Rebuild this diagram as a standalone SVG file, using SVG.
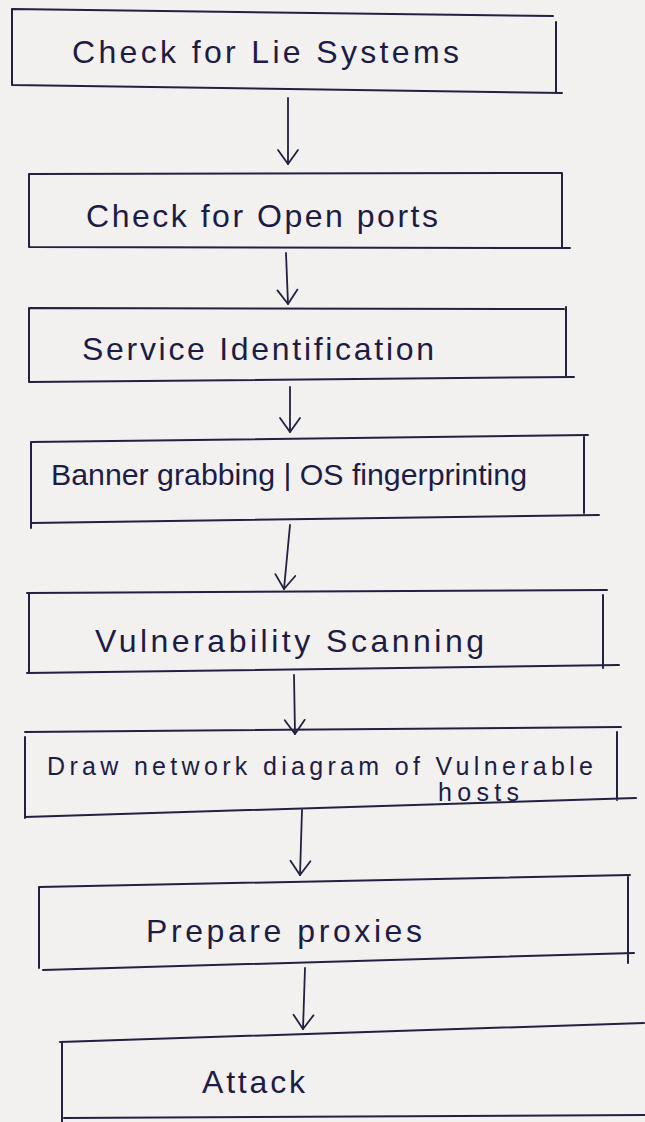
<svg xmlns="http://www.w3.org/2000/svg" width="645" height="1122" viewBox="0 0 645 1122">
  <style>
    .paper { fill: #f3f1f0; }
    .box { fill: none; stroke: #22213f; stroke-width: 2; stroke-linecap: round; stroke-linejoin: round; }
    .wire { fill: none; stroke: #22213f; stroke-width: 1.8; stroke-linecap: round; }
    .label { font-family: "Liberation Sans", "DejaVu Sans", sans-serif; font-size: 32px; fill: #1d1c45; }
    .mid { font-size: 29px; }
    .small { font-size: 25px; }
  </style>
  <defs>
    <marker id="vhead" markerUnits="userSpaceOnUse" markerWidth="26" markerHeight="26" viewBox="-16 -13 18 26" refX="0" refY="0" orient="auto">
      <path d="M-14,-10 L0,0 L-14,10" fill="none" stroke="#22213f" stroke-width="1.8" stroke-linecap="round" stroke-linejoin="round"/>
    </marker>
  </defs>

  <rect class="paper" x="0" y="0" width="645" height="1122"/>

  <!-- step connectors -->
  <g id="connectors">
    <path class="wire" d="M288,98 L288,164" marker-end="url(#vhead)"/>
    <path class="wire" d="M286,253 L288,304" marker-end="url(#vhead)"/>
    <path class="wire" d="M290,387 L290,432" marker-end="url(#vhead)"/>
    <path class="wire" d="M290,525 L284,589" marker-end="url(#vhead)"/>
    <path class="wire" d="M294,675 L295,734" marker-end="url(#vhead)"/>
    <path class="wire" d="M302,810 L300,875" marker-end="url(#vhead)"/>
    <path class="wire" d="M305,968 L303,1029" marker-end="url(#vhead)"/>
  </g>

  <g id="step-live-systems">
    <path class="box" d="M12,9 L553,16 M556,22 L556,93 M12,9 L12,85 M12,85 L562,93"/>
    <text class="label" x="72" y="63" textLength="387" lengthAdjust="spacing">Check for Lie Systems</text>
  </g>

  <g id="step-open-ports">
    <path class="box" d="M29,174 L562,173 M562,173 L562,248 M29,174 L29,247 M29,247 L570,248"/>
    <text class="label" x="86" y="227" textLength="352" lengthAdjust="spacing">Check for Open ports</text>
  </g>

  <g id="step-service-id">
    <path class="box" d="M29,308 L564,309 M566,307 L566,377 M29,308 L29,382 M29,382 L574,377"/>
    <text class="label" x="82" y="360" textLength="352" lengthAdjust="spacing">Service Identification</text>
  </g>

  <g id="step-banner">
    <path class="box" d="M31,442 L588,435 M584,435 L584,513 M31,442 L31,528 M31,523 L599,515"/>
    <text class="label mid" x="51" y="485" textLength="476" lengthAdjust="spacingAndGlyphs">Banner grabbing | OS fingerprinting</text>
  </g>

  <g id="step-vuln-scan">
    <path class="box" d="M27,593 L607,590 M603,595 L603,668 M29,593 L29,673 M27,673 L619,665"/>
    <text class="label" x="95" y="652" textLength="389" lengthAdjust="spacing">Vulnerability Scanning</text>
  </g>

  <g id="step-network-diagram">
    <path class="box" d="M25,732 L621,727 M617,732 L617,800 M25,737 L25,818 M25,817 L636,798"/>
    <text class="label small" x="47" y="775" textLength="546" lengthAdjust="spacing">Draw network diagram of Vulnerable</text>
    <text class="label small" x="438" y="801" textLength="81" lengthAdjust="spacing">hosts</text>
  </g>

  <g id="step-proxies">
    <path class="box" d="M39,887 L630,875 M628,875 L628,963 M39,887 L39,968 M43,970 L634,953"/>
    <text class="label" x="146" y="942" textLength="276" lengthAdjust="spacing">Prepare proxies</text>
  </g>

  <g id="step-attack">
    <path class="box" d="M60,1042 L644,1023 M62,1042 L62,1122 M64,1118 L645,1115"/>
    <text class="label" x="202" y="1093" textLength="103" lengthAdjust="spacing">Attack</text>
  </g>
</svg>
